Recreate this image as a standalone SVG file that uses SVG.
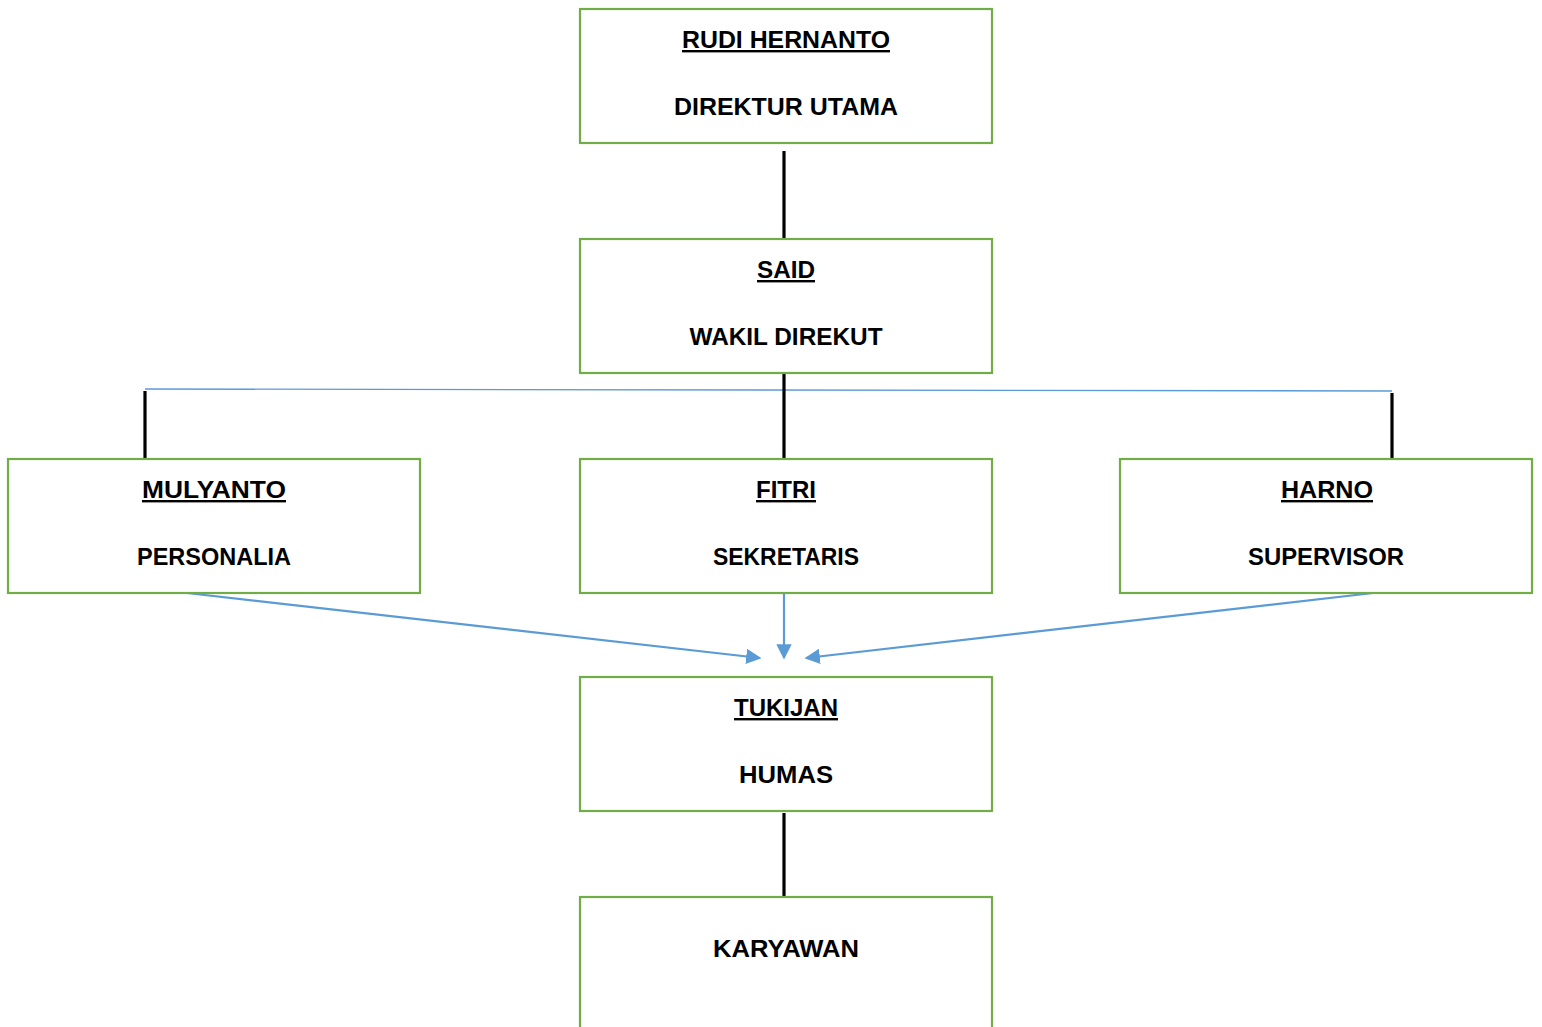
<svg xmlns="http://www.w3.org/2000/svg" width="1542" height="1027" viewBox="0 0 1542 1027">
  <style>
    .box { fill: #ffffff; stroke: #70AD47; stroke-width: 2.2; }
    .t { font-family: "Liberation Sans", Arial, sans-serif; font-weight: bold; font-size: 24px; fill: #000000; text-anchor: middle; }
    .u { text-decoration: underline; }
    .stem { stroke: #000000; stroke-width: 3.2; }
    .bus { stroke: #5B9BD5; stroke-width: 1.4; fill: none; }
    .arrow { stroke: #5B9BD5; stroke-width: 2.2; fill: none; marker-end: url(#head); }
  </style>
  <defs>
    <marker id="head" viewBox="0 0 10 10" refX="9" refY="5" markerWidth="7" markerHeight="7" markerUnits="strokeWidth" orient="auto">
      <path d="M0,0 L10,5 L0,10 Z" fill="#5B9BD5"/>
    </marker>
  </defs>
  <rect width="1542" height="1027" fill="#ffffff"/>

  <g id="connectors">
    <line class="stem" x1="784" y1="151" x2="784" y2="239"/>
    <line class="bus" x1="145" y1="389" x2="1392" y2="391"/>
    <line class="stem" x1="145" y1="391" x2="145" y2="459"/>
    <line class="stem" x1="784" y1="373" x2="784" y2="459"/>
    <line class="stem" x1="1392" y1="393" x2="1392" y2="460"/>
    <line class="arrow" x1="187" y1="593" x2="760" y2="658"/>
    <line class="arrow" x1="784" y1="593" x2="784" y2="658"/>
    <line class="arrow" x1="1373" y1="593" x2="806" y2="658"/>
    <line class="stem" x1="784" y1="813" x2="784" y2="900"/>
  </g>

  <g id="node-direktur">
    <rect class="box" x="580" y="9" width="412" height="134"/>
    <text class="t u" x="786" y="48" textLength="208" lengthAdjust="spacingAndGlyphs">RUDI HERNANTO</text>
    <text class="t" x="786" y="115" textLength="224" lengthAdjust="spacingAndGlyphs">DIREKTUR UTAMA</text>
  </g>

  <g id="node-wakil">
    <rect class="box" x="580" y="239" width="412" height="134"/>
    <text class="t u" x="786" y="278" textLength="58" lengthAdjust="spacingAndGlyphs">SAID</text>
    <text class="t" x="786" y="345" textLength="193" lengthAdjust="spacingAndGlyphs">WAKIL DIREKUT</text>
  </g>

  <g id="node-personalia">
    <rect class="box" x="8" y="459" width="412" height="134"/>
    <text class="t u" x="214" y="498" textLength="144" lengthAdjust="spacingAndGlyphs">MULYANTO</text>
    <text class="t" x="214" y="565" textLength="154" lengthAdjust="spacingAndGlyphs">PERSONALIA</text>
  </g>

  <g id="node-sekretaris">
    <rect class="box" x="580" y="459" width="412" height="134"/>
    <text class="t u" x="786" y="498" textLength="60" lengthAdjust="spacingAndGlyphs">FITRI</text>
    <text class="t" x="786" y="565" textLength="146" lengthAdjust="spacingAndGlyphs">SEKRETARIS</text>
  </g>

  <g id="node-supervisor">
    <rect class="box" x="1120" y="459" width="412" height="134"/>
    <text class="t u" x="1327" y="498" textLength="92" lengthAdjust="spacingAndGlyphs">HARNO</text>
    <text class="t" x="1326" y="565" textLength="156" lengthAdjust="spacingAndGlyphs">SUPERVISOR</text>
  </g>

  <g id="node-humas">
    <rect class="box" x="580" y="677" width="412" height="134"/>
    <text class="t u" x="786" y="716" textLength="104" lengthAdjust="spacingAndGlyphs">TUKIJAN</text>
    <text class="t" x="786" y="783" textLength="94" lengthAdjust="spacingAndGlyphs">HUMAS</text>
  </g>

  <g id="node-karyawan">
    <rect class="box" x="580" y="897" width="412" height="150"/>
    <text class="t" x="786" y="957" textLength="146" lengthAdjust="spacingAndGlyphs">KARYAWAN</text>
  </g>
</svg>
